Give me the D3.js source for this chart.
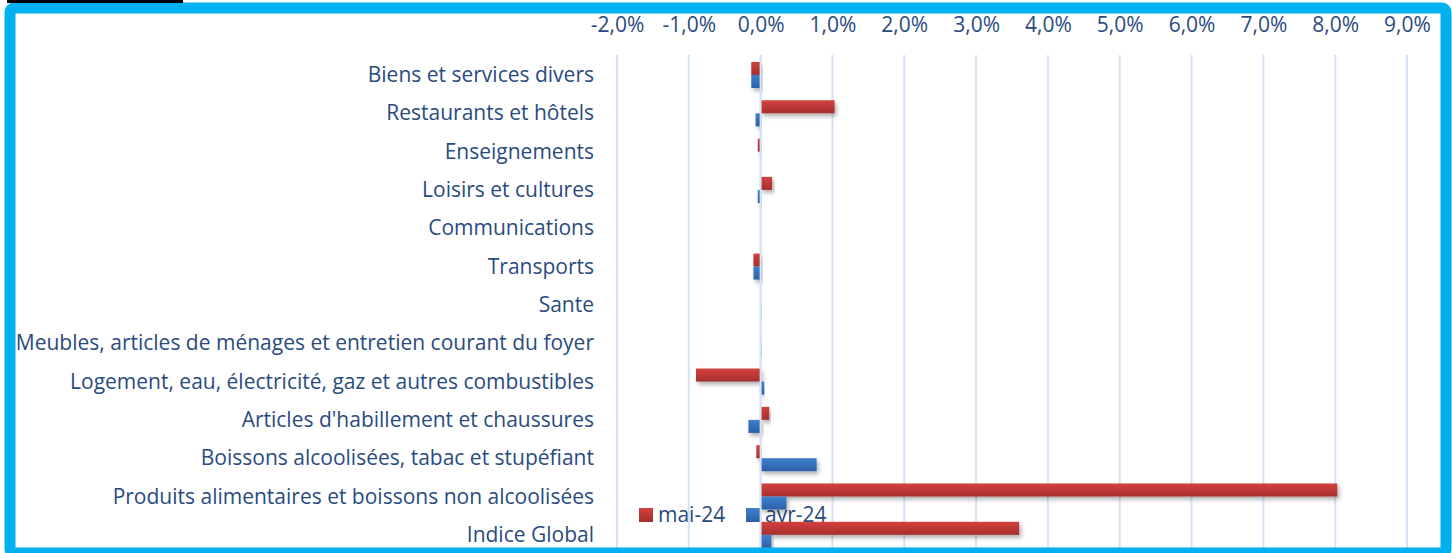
<!DOCTYPE html>
<html><head><meta charset="utf-8">
<script src="https://cdn.jsdelivr.net/npm/d3@7"></script>
<style>html,body{margin:0;padding:0;background:#fff;}svg{display:block;}</style>
</head><body>
<script>
const categories = ["Biens et services divers","Restaurants et hôtels","Enseignements","Loisirs et cultures","Communications","Transports","Sante","Meubles, articles de ménages et entretien courant du foyer","Logement, eau, électricité, gaz et autres combustibles","Articles d'habillement et chaussures","Boissons alcoolisées, tabac et stupéfiant","Produits alimentaires et boissons non alcoolisées","Indice Global"];
const mai24 = [-0.13, 1.03, -0.04, 0.16, 0, -0.10, 0, 0, -0.90, 0.12, -0.06, 8.03, 3.60];
const avr24 = [-0.13, -0.07, 0, -0.04, 0, -0.10, 0.01, 0.01, 0.05, -0.17, 0.78, 0.36, 0.15];
const ticks = [-2,-1,0,1,2,3,4,5,6,7,8,9];
const seriesNames = ["mai-24","avr-24"];

const W = 1452, H = 553;
const FONT = "'Open Sans', Lato, sans-serif";
const FS = 21;
const textCol = "#2a4b80";
const svg = d3.select("body").append("svg").attr("width", W).attr("height", H);
const defs = svg.append("defs");
function grad(id, top, bot){
  const g = defs.append("linearGradient").attr("id", id).attr("x1",0).attr("y1",0).attr("x2",0).attr("y2",1);
  g.append("stop").attr("offset","0%").attr("stop-color",top);
  g.append("stop").attr("offset","100%").attr("stop-color",bot);
}
grad("gRed", "#d4413e", "#a52f2d");
grad("gBlue", "#3f7fce", "#2c60a5");
const f = defs.append("filter").attr("id","sh").attr("x","-20%").attr("y","-50%").attr("width","140%").attr("height","250%");
f.append("feDropShadow").attr("dx",2).attr("dy",3).attr("stdDeviation",2).attr("flood-color","#000").attr("flood-opacity",0.3);

const x = d3.scaleLinear().domain([-2, 9]).range([617, 1407]);
const y = d3.scaleBand().domain(categories).range([55.8, 554]).paddingInner(0.32).paddingOuter(0.16);
const ySub = d3.scaleBand().domain(seriesNames).range([0, y.bandwidth()]);

// gridlines
svg.append("g").selectAll("line").data(ticks).join("line")
  .attr("x1", d => x(d)).attr("x2", d => x(d))
  .attr("y1", 55).attr("y2", 553)
  .attr("stroke", "#d5e3f4").attr("stroke-width", 2);

// axis labels
const axis = d3.axisTop(x).tickValues(ticks).tickSize(0).tickPadding(0)
  .tickFormat(d => d3.format(".1f")(d).replace(".", ",").replace("−","-") + "%");
const ax = svg.append("g").attr("transform", "translate(0,31.5)").call(axis);
ax.select(".domain").remove();
ax.selectAll("text").attr("font-family", FONT).attr("font-size", FS).attr("fill", textCol);

// category labels
svg.append("g").selectAll("text").data(categories).join("text")
  .attr("x", 594).attr("y", d => y(d) + y.bandwidth()/2 - 1)
  .attr("text-anchor", "end").attr("dominant-baseline", "central")
  .attr("font-family", FONT).attr("font-size", FS).attr("fill", textCol)
  .text(d => d);

// legend (drawn beneath bars)
const leg = svg.append("g");
const legItems = [{name:"mai-24", fill:"url(#gRed)", x:639},{name:"avr-24", fill:"url(#gBlue)", x:746}];
legItems.forEach(it => {
  leg.append("rect").attr("x", it.x).attr("y", 508).attr("width", 14).attr("height", 14).attr("fill", it.fill);
  leg.append("text").attr("x", it.x + 19).attr("y", 514).attr("dominant-baseline","central")
    .attr("font-family", FONT).attr("font-size", FS).attr("fill", textCol).text(it.name);
});

// bars
const data = [];
categories.forEach((c, i) => {
  data.push({c, s:"mai-24", v:mai24[i], fill:"url(#gRed)"});
  data.push({c, s:"avr-24", v:avr24[i], fill:"url(#gBlue)"});
});
svg.append("g").selectAll("rect").data(data.filter(d => d.v !== 0)).join("rect")
  .attr("x", d => Math.min(x(0), x(d.v)))
  .attr("width", d => Math.abs(x(d.v) - x(0)))
  .attr("y", d => y(d.c) + ySub(d.s))
  .attr("height", ySub.bandwidth())
  .attr("fill", d => d.fill)
  .attr("filter", "url(#sh)");

// zero axis line on top of bars
svg.append("line").attr("x1", x(0)).attr("x2", x(0)).attr("y1", 55).attr("y2", 553)
  .attr("stroke", "#d5e3f4").attr("stroke-width", 2);

// border
svg.append("rect").attr("x", 10).attr("y", 8).attr("width", 1436).attr("height", 545)
  .attr("rx", 4).attr("fill", "none").attr("stroke", "#00b0f0").attr("stroke-width", 11);
svg.append("rect").attr("x", 7).attr("y", 0).attr("width", 176).attr("height", 3).attr("fill", "#000");
</script>
</body></html>
